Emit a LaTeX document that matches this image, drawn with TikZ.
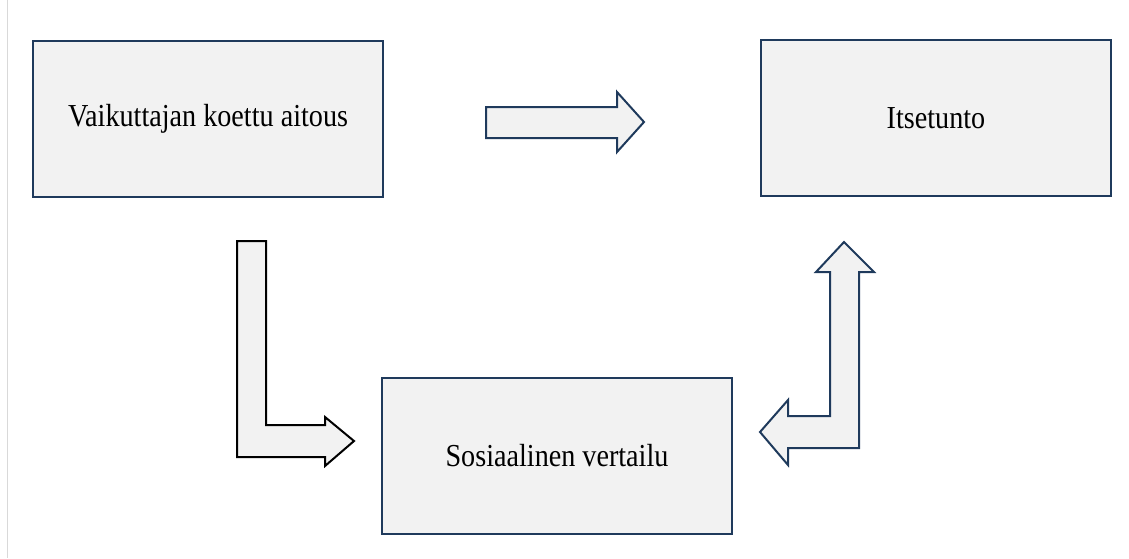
\documentclass[tikz,border=0pt]{standalone}
\usepackage{fontspec}
\setmainfont{Liberation Serif}
\newfontfamily\boxfont[FakeStretch=0.88]{Liberation Serif}
\definecolor{rim}{HTML}{1F3A5C}
\definecolor{pane}{HTML}{F2F2F2}
\newcommand{\bx}{\node[draw=rim, line width=2.2pt, fill=pane, minimum width=350pt, minimum height=156pt, inner sep=0pt, font=\boxfont\fontsize{32}{38}\selectfont]}
\newcommand{\ar}[1]{\draw[line width=2pt, fill=pane, line join=miter, draw=#1]}

\begin{document}
\begin{tikzpicture}[x=1pt, y=-1pt]
        \useasboundingbox (0,0) rectangle (1129,558);
        \draw[black!15, line width=1pt] (7,0) -- (7,558);

        \bx (aito) at (208, 119) {Vaikuttajan koettu aitous};
        \bx (itse) at (936, 118) {Itsetunto};
        \bx (vert) at (557, 456) {Sosiaalinen vertailu};

        % aitous -> itsetunto
        \ar{rim} (486,107) -- (617,107) -- (617,92) -- (644,122)
            -- (617,152) -- (617,138) -- (486,138) -- cycle;

        % aitous -> vertailu
        \ar{black} (237,241) -- (266,241) -- (266,425) -- (325,425)
            -- (325,417) -- (354,441) -- (325,466) -- (325,457)
            -- (237,457) -- cycle;

        % vertailu <-> itsetunto
        \ar{rim} (760,432) -- (788,400) -- (788,416) -- (830,416)
            -- (830,272) -- (816,272) -- (844,242) -- (874,272)
            -- (859,272) -- (859,448) -- (788,448) -- (788,465) -- cycle;
\end{tikzpicture}
\end{document}
